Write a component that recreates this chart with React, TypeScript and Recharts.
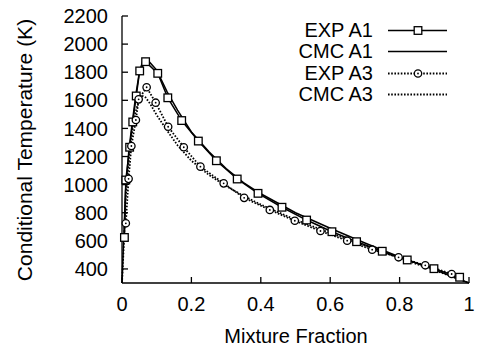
import { LineChart, Line, XAxis, YAxis, Legend } from 'recharts';

// experimental points, A1 (squares)
const expA1X = [0.007, 0.011, 0.022, 0.031, 0.041, 0.051, 0.068, 0.103, 0.132, 0.172, 0.22, 0.272, 0.332, 0.392, 0.461, 0.532, 0.605, 0.676, 0.75, 0.822, 0.899, 0.973];
const expA1T = [624, 1033, 1266, 1446, 1631, 1809, 1875, 1792, 1618, 1456, 1310, 1170, 1040, 938, 839, 748, 665, 594, 526, 464, 402, 341];

// experimental points, A3 (circles)
const expA3X = [0.011, 0.019, 0.027, 0.04, 0.048, 0.071, 0.097, 0.133, 0.178, 0.226, 0.293, 0.352, 0.426, 0.498, 0.572, 0.649, 0.721, 0.797, 0.874, 0.95];
const expA3T = [725, 1041, 1275, 1460, 1607, 1693, 1583, 1412, 1266, 1128, 1009, 906, 820, 743, 670, 601, 537, 483, 426, 364];

// CMC model curves
const cmcX = [0, 0.005, 0.01, 0.02, 0.03, 0.04, 0.05, 0.06, 0.068, 0.08, 0.1, 0.13, 0.16, 0.2, 0.25, 0.3, 0.35, 0.4, 0.5, 0.6, 0.7, 0.8, 0.9, 1.0];
const cmcA1T = [300, 620, 950, 1250, 1450, 1640, 1800, 1880, 1895, 1870, 1815, 1660, 1530, 1375, 1235, 1115, 1015, 935, 800, 690, 585, 485, 395, 300];
const cmcA3T = [300, 560, 880, 1190, 1390, 1525, 1610, 1630, 1620, 1580, 1495, 1385, 1280, 1170, 1070, 990, 920, 858, 750, 655, 565, 478, 392, 300];

const xTicks = [0, 0.2, 0.4, 0.6, 0.8, 1];
const yTicks = [400, 600, 800, 1000, 1200, 1400, 1600, 1800, 2000, 2200];

const seriesNames = ['EXP A1', 'CMC A1', 'EXP A3', 'CMC A3'];

const FONT = '"Liberation Sans", Arial, Helvetica, sans-serif';
const DOTTED = '1.6 1.6';

function zip(xs: number[], ys: number[]) {
  return xs.map((x, i) => ({ x, y: ys[i] }));
}

function SquareDot({ cx, cy }: { cx?: number; cy?: number }) {
  if (cx == null || cy == null) return null;
  return <rect x={cx - 3.8} y={cy - 3.8} width={7.6} height={7.6} fill="#fff" stroke="#000" strokeWidth={1.3} />;
}

function CircleDot({ cx, cy }: { cx?: number; cy?: number }) {
  if (cx == null || cy == null) return null;
  return (
    <g>
      <circle cx={cx} cy={cy} r={3.7} fill="#fff" stroke="#000" strokeWidth={1.3} />
      <circle cx={cx} cy={cy} r={0.9} fill="#000" />
    </g>
  );
}

// legend drawn in series order (Recharts would sort it alphabetically)
function LegendBox() {
  return (
    <div style={{ fontFamily: FONT, fontSize: 20, color: '#000' }}>
      {seriesNames.map(name => {
        const dotted = name.endsWith('A3');
        const marker = name.startsWith('EXP') ? (dotted ? 'circle' : 'square') : null;
        return (
          <div key={name} style={{ display: 'flex', alignItems: 'center', height: 21.3, lineHeight: '21.3px' }}>
            <span style={{ width: 123, textAlign: 'right', whiteSpace: 'nowrap' }}>{name}</span>
            <svg width={74} height={21} style={{ display: 'block' }}>
              <line x1={15} x2={74} y1={10.5} y2={10.5} stroke="#000" strokeWidth={dotted ? 1.8 : 1.5} strokeDasharray={dotted ? DOTTED : undefined} />
              {marker === 'square' && <SquareDot cx={45} cy={10.5} />}
              {marker === 'circle' && <CircleDot cx={45} cy={10.5} />}
            </svg>
          </div>
        );
      })}
    </div>
  );
}

const yLabel = () => (
  <text x={24} y={150} transform="rotate(-90 24 150)" textAnchor="middle" dominantBaseline="central" fontSize={21} fontFamily={FONT} fill="#000">
    Conditional Temperature (K)
  </text>
);

const xLabel = () => (
  <text x={296} y={343} textAnchor="middle" fontSize={20} fontFamily={FONT} fill="#000">
    Mixture Fraction
  </text>
);

const tickStyle = { fontSize: 20, fill: '#000', fontFamily: FONT };
const black = { stroke: '#000', strokeWidth: 1.3 };

export default function App() {
  return (
    <div style={{ position: 'absolute', left: 0, top: 0, background: '#fff' }}>
      <LineChart width={478} height={352} margin={{ top: 16, right: 9, left: 0, bottom: 0 }}>
        <XAxis
          dataKey="x"
          type="number"
          domain={[0, 1]}
          ticks={xTicks}
          height={69}
          tickSize={-6}
          tickMargin={19.5}
          tick={tickStyle}
          axisLine={black}
          tickLine={black}
          label={xLabel}
        />
        <XAxis xAxisId="top" orientation="top" dataKey="x" type="number" domain={[0, 1]} ticks={xTicks} height={0} tickSize={-6} tick={() => <g />} axisLine={black} tickLine={black} />
        <YAxis
          type="number"
          domain={[300, 2200]}
          ticks={yTicks}
          width={122}
          tickSize={-6}
          tickMargin={20}
          tick={tickStyle}
          axisLine={black}
          tickLine={black}
          label={yLabel}
        />
        <YAxis yAxisId="right" orientation="right" type="number" domain={[300, 2200]} ticks={yTicks} width={0} tickSize={-6} tick={() => <g />} axisLine={black} tickLine={black} />
        <Legend
          layout="vertical"
          align="center"
          verticalAlign="middle"
          wrapperStyle={{ left: 250, top: 20, width: 210 }}
          content={<LegendBox />}
        />
        <Line name={seriesNames[0]} data={zip(expA1X, expA1T)} dataKey="y" type="linear" stroke="#000" strokeWidth={1.5} dot={<SquareDot />} activeDot={false} isAnimationActive={false} />
        <Line name={seriesNames[1]} data={zip(cmcX, cmcA1T)} dataKey="y" type="linear" stroke="#000" strokeWidth={1.5} dot={false} activeDot={false} isAnimationActive={false} />
        <Line name={seriesNames[2]} data={zip(expA3X, expA3T)} dataKey="y" type="linear" stroke="#000" strokeWidth={1.8} strokeDasharray={DOTTED} dot={<CircleDot />} activeDot={false} isAnimationActive={false} />
        <Line name={seriesNames[3]} data={zip(cmcX, cmcA3T)} dataKey="y" type="linear" stroke="#000" strokeWidth={1.8} strokeDasharray={DOTTED} dot={false} activeDot={false} isAnimationActive={false} />
      </LineChart>
    </div>
  );
}
